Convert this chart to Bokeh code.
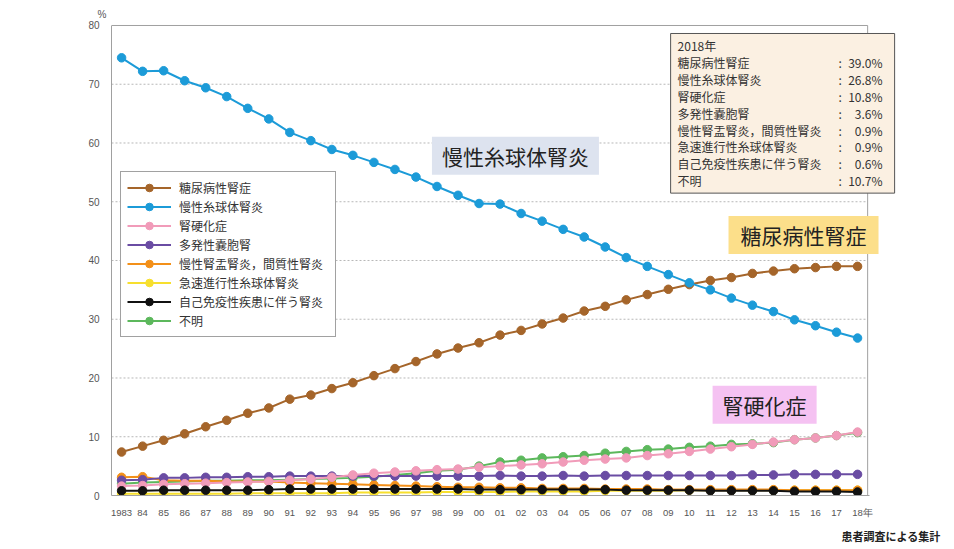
from bokeh.plotting import figure
from bokeh.models import (Label, Legend, LegendItem, FixedTicker, Range1d, Title)
from bokeh.embed import file_html
from bokeh.resources import INLINE

years = list(range(1983, 2019))
year_labels = ["1983"] + [str(y)[2:] for y in range(1984, 2019)]

diabetic = [7.4, 8.4, 9.4, 10.5, 11.7, 12.8, 14.0, 14.9, 16.4, 17.1,
            18.2, 19.2, 20.4, 21.6, 22.8, 24.1, 25.1, 26.0, 27.3, 28.1,
            29.2, 30.2, 31.4, 32.2, 33.3, 34.2, 35.1, 35.9, 36.6, 37.1,
            37.8, 38.2, 38.6, 38.8, 39.0, 39.0]
glomerulo = [74.5, 72.2, 72.3, 70.6, 69.4, 67.9, 65.9, 64.1, 61.8, 60.4,
             58.9, 57.9, 56.7, 55.5, 54.2, 52.6, 51.1, 49.7, 49.6, 48.0,
             46.7, 45.3, 44.0, 42.3, 40.5, 39.0, 37.6, 36.2, 35.0, 33.6,
             32.4, 31.3, 29.9, 28.9, 27.8, 26.8]
sclerosis = [1.6, 1.7, 1.9, 2.0, 2.1, 2.2, 2.3, 2.4, 2.6, 2.8,
             3.1, 3.5, 3.8, 4.0, 4.2, 4.4, 4.5, 4.8, 5.0, 5.2,
             5.4, 5.7, 6.0, 6.2, 6.4, 6.8, 7.1, 7.5, 7.9, 8.3,
             8.7, 9.1, 9.5, 9.8, 10.2, 10.8]
polycystic = [2.6, 2.7, 3.0, 3.0, 3.1, 3.1, 3.2, 3.2, 3.3, 3.3,
              3.3, 3.3, 3.3, 3.3, 3.3, 3.3, 3.3, 3.3, 3.4, 3.3,
              3.3, 3.4, 3.3, 3.4, 3.4, 3.4, 3.4, 3.4, 3.4, 3.4,
              3.5, 3.5, 3.6, 3.6, 3.6, 3.6]
pyelo = [3.1, 3.2, 2.6, 2.5, 2.5, 2.4, 2.4, 2.4, 2.2, 2.1,
         2.0, 1.9, 1.8, 1.7, 1.6, 1.5, 1.4, 1.4, 1.3, 1.3,
         1.2, 1.2, 1.2, 1.1, 1.1, 1.1, 1.0, 1.0, 1.0, 1.0,
         1.0, 1.0, 0.9, 0.9, 0.9, 0.9]
rpgn = [0.3, 0.3, 0.3, 0.3, 0.3, 0.3, 0.4, 0.4, 0.4, 0.4,
        0.4, 0.5, 0.5, 0.5, 0.5, 0.6, 0.6, 0.6, 0.6, 0.7,
        0.7, 0.7, 0.7, 0.8, 0.8, 0.8, 0.8, 0.9, 0.9, 0.9,
        0.9, 0.9, 0.9, 0.9, 0.9, 0.9]
autoimmune = [0.8, 0.8, 0.9, 0.9, 0.9, 0.9, 0.9, 1.0, 1.1, 1.1,
              1.1, 1.1, 1.1, 1.1, 1.1, 1.1, 1.1, 1.0, 1.0, 1.0,
              1.0, 1.0, 1.0, 1.0, 0.9, 0.9, 0.9, 0.9, 0.8, 0.8,
              0.8, 0.8, 0.7, 0.7, 0.7, 0.6]
unknown = [2.0, 2.2, 2.3, 2.4, 2.5, 2.5, 2.6, 2.6, 2.7, 2.8,
           2.9, 3.0, 3.2, 3.5, 3.8, 4.2, 4.4, 5.0, 5.7, 6.0,
           6.4, 6.6, 6.8, 7.2, 7.5, 7.8, 7.9, 8.2, 8.4, 8.7,
           8.8, 9.0, 9.5, 9.8, 10.2, 10.7]

series_names = ["糖尿病性腎症", "慢性糸球体腎炎", "腎硬化症", "多発性嚢胞腎",
                "慢性腎盂腎炎，間質性腎炎", "急速進行性糸球体腎炎",
                "自己免疫性疾患に伴う腎炎", "不明"]
series_values = [diabetic, glomerulo, sclerosis, polycystic, pyelo, rpgn,
                 autoimmune, unknown]
series_colors = ["#a5652a", "#1c9bd8", "#f19bb9", "#6a4ca3", "#f39019",
                 "#f7df2e", "#111111", "#5cb85c"]
summary_values = ["39.0%", "26.8%", "10.8%", "3.6%", "0.9%", "0.9%", "0.6%", "10.7%"]
y_ticks = list(range(0, 90, 10))
grid_ticks = list(range(10, 80, 10))
year_unit_pos = 2018.52        # where the small "年" sits on the year axis

JP = "Noto Sans CJK JP"
LAT = "Liberation Sans"

X0, X1 = 1982.52, 2018.48      # visible chart box
XR = 2020.28                   # frame extends right to hold the summary box
YT = 80.17

p = figure(width=950, height=549, output_backend="svg", toolbar_location=None,
           x_range=Range1d(X0, XR), y_range=Range1d(0, YT),
           min_border_left=111, min_border_right=45, min_border_top=24,
           min_border_bottom=53)
p.outline_line_color = None
p.background_fill_color = "white"
p.border_fill_color = "white"

p.xgrid.grid_line_color = None
p.ygrid.grid_line_color = None

# dotted horizontal guide lines and the chart box's top / right edges
p.segment(x0=[X0] * len(grid_ticks), y0=grid_ticks, x1=[X1] * len(grid_ticks),
          y1=grid_ticks, line_color="#b8b8b8", line_width=1, line_dash="2 2")
p.segment(x0=[X0, X1], y0=[80, 0], x1=[X1, X1], y1=[80, 80],
          line_color="#a0a0a0", line_width=1)

p.yaxis.ticker = FixedTicker(ticks=y_ticks)
p.yaxis.bounds = (0, 80)
p.yaxis.axis_line_color = "#a0a0a0"
p.yaxis.major_tick_line_color = None
p.yaxis.minor_tick_line_color = None
p.yaxis.major_label_text_font = LAT
p.yaxis.major_label_text_font_size = "10px"
p.yaxis.major_label_text_color = "#555555"
p.yaxis.major_label_standoff = 6

overrides = {y: l for y, l in zip(years, year_labels)}
overrides[year_unit_pos] = "年"
p.xaxis.ticker = FixedTicker(ticks=years + [year_unit_pos])
p.xaxis.bounds = (X0, 2018.56)
p.xaxis.major_label_overrides = overrides
p.xaxis.axis_line_color = "#a0a0a0"
p.xaxis.major_tick_line_color = None
p.xaxis.minor_tick_line_color = None
p.xaxis.major_label_text_font = LAT
p.xaxis.major_label_text_font_size = "9.5px"
p.xaxis.major_label_text_color = "#555555"
p.xaxis.major_label_standoff = 5

draw_order = [7, 5, 4, 3, 2, 6, 0, 1]
renderers = {}
for i in draw_order:
    ln = p.line(years, series_values[i], line_color=series_colors[i], line_width=2)
    sc = p.scatter(years, series_values[i], marker="circle", size=8.5,
                   fill_color=series_colors[i], line_color=series_colors[i])
    renderers[i] = [ln, sc]

items = [LegendItem(label=series_names[i], renderers=renderers[i]) for i in range(8)]
legend = Legend(items=items, location=(9, 158), orientation="vertical",
                label_text_font=JP, label_text_font_size="12px",
                label_text_color="#333333", border_line_color="#444444",
                border_line_width=1.5, background_fill_alpha=1,
                padding=6, spacing=0, glyph_width=44, glyph_height=19,
                label_height=19, label_width=150, label_standoff=8, margin=0)
p.add_layout(legend, "center")

def big_label(text, x, y, bg, pad_h):
    p.add_layout(Label(x=x, y=y, text=text, text_align="center",
                       text_baseline="middle", text_font=JP,
                       text_font_size="21px", text_color="#222222",
                       background_fill_color=bg,
                       padding=dict(left=pad_h, right=pad_h, top=4, bottom=4)))

big_label("慢性糸球体腎炎", 2001.73, 57.84, "#dde3ef", 10)
big_label("糖尿病性腎症", 2015.43, 44.33, "#fcdf8a", 12)
big_label("腎硬化症", 2013.58, 15.46, "#f5c2f2", 10)

names_text = "\n".join(["2018年"] + series_names)
colon_text = "\n".join([" "] + [":"] * 8)
value_text = "\n".join([" "] + summary_values)

common = dict(text_baseline="top", text_font=JP, text_font_size="12px",
              text_line_height=0.99, text_color="#333333")
p.add_layout(Label(x=2009.11, y=78.64, text=names_text, text_align="left",
                   background_fill_color="#fbf0e2", border_line_color="#555555",
                   border_line_width=1,
                   padding=dict(left=7, right=73, top=4, bottom=4), **common))
p.add_layout(Label(x=2017.09, y=77.97, text=colon_text, text_align="left", **common))
p.add_layout(Label(x=2019.19, y=77.97, text=value_text, text_align="right", **common))

p.add_layout(Title(text="%", align="left", offset=-14, standoff=10,
                   text_font=LAT, text_font_size="10px", text_font_style="normal",
                   text_color="#555555"), "above")

p.add_layout(Title(text="患者調査による集計", align="right", offset=-35,
                   standoff=11, text_font=JP, text_font_size="11px",
                   text_font_style="bold", text_color="#222222"), "below")

open("out.html", "w").write(file_html(p, INLINE))
